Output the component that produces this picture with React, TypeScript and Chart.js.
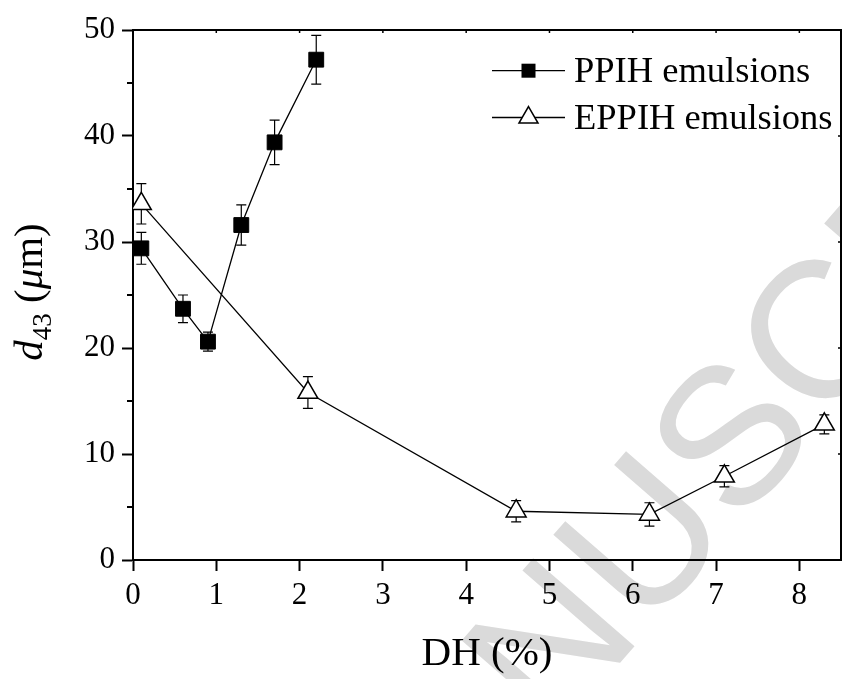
import React, { useEffect, useRef } from 'react';
import { Chart, registerables } from 'chart.js';

Chart.register(...registerables);

// ---- data ----
const ppihDH = [0.1, 0.6, 0.9, 1.3, 1.7, 2.2];
const ppihD43 = [29.4, 23.7, 20.6, 31.6, 39.4, 47.2];
const ppihErr = [1.5, 1.3, 0.9, 1.9, 2.1, 2.3];
const eppihDH = [0.1, 2.1, 4.6, 6.2, 7.1, 8.3];
const eppihD43 = [33.6, 15.8, 4.6, 4.3, 7.9, 12.8];
const eppihErr = [1.9, 1.5, 1.0, 1.1, 1.0, 0.9];
const xTickValues = [0, 1, 2, 3, 4, 5, 6, 7, 8];
const yTickValues = [0, 10, 20, 30, 40, 50];
const yMinorValues = [5, 15, 25, 35, 45];
const seriesLabels = ['PPIH emulsions', 'EPPIH emulsions'];
const xAxisTitle = 'DH (%)';
const watermarkText = 'ACCEPTED MANUSCRIPT';

const SERIF = "'Liberation Serif', 'Times New Roman', serif";
const SANS = "'Liberation Sans', Arial, sans-serif";

const errors = [ppihErr, eppihErr];

const watermarkPlugin = {
  id: 'watermark',
  beforeDraw(chart: any) {
    const ctx = chart.ctx;
    ctx.save();
    const fs = 195;
    ctx.font = `${fs}px ${SANS}`;
    ctx.fillStyle = '#dadada';
    ctx.translate(638, 535);
    ctx.rotate(-49 * Math.PI / 180);
    const pre = ctx.measureText('ACCEPTED MAN').width;
    const u = ctx.measureText('U').width;
    ctx.textBaseline = 'alphabetic';
    ctx.fillText(watermarkText, -pre - u / 2, 0.36 * fs);
    ctx.restore();
  },
};

const errorBarPlugin = {
  id: 'errorBars',
  beforeDatasetsDraw(chart: any) {
    const ctx = chart.ctx;
    const ys = chart.scales.y;
    ctx.save();
    ctx.strokeStyle = '#000';
    ctx.lineWidth = 1.2;
    chart.data.datasets.forEach((ds: any, i: number) => {
      const meta = chart.getDatasetMeta(i);
      meta.data.forEach((pt: any, j: number) => {
        const v = ds.data[j].y;
        const e = errors[i][j];
        const top = ys.getPixelForValue(v + e);
        const bot = ys.getPixelForValue(v - e);
        const x = pt.x;
        ctx.beginPath();
        ctx.moveTo(x, top);
        ctx.lineTo(x, bot);
        ctx.moveTo(x - 5, top);
        ctx.lineTo(x + 5, top);
        ctx.moveTo(x - 5, bot);
        ctx.lineTo(x + 5, bot);
        ctx.stroke();
      });
    });
    ctx.restore();
  },
};

const decorPlugin = {
  id: 'decor',
  afterDraw(chart: any) {
    const ctx = chart.ctx;
    const a = chart.chartArea;
    const xs = chart.scales.x;
    const ys = chart.scales.y;
    ctx.save();
    ctx.strokeStyle = '#000';
    ctx.lineWidth = 2;
    // frame (top & right)
    ctx.beginPath();
    ctx.moveTo(a.left, a.top);
    ctx.lineTo(a.right, a.top);
    ctx.lineTo(a.right, a.bottom);
    ctx.stroke();
    // inward small ticks on top and right
    ctx.lineWidth = 1.5;
    ctx.beginPath();
    xTickValues.forEach((v) => {
      const x = xs.getPixelForValue(v);
      ctx.moveTo(x, a.top);
      ctx.lineTo(x, a.top + 3);
    });
    yTickValues.forEach((v) => {
      const y = ys.getPixelForValue(v);
      ctx.moveTo(a.right, y);
      ctx.lineTo(a.right - 3, y);
    });
    ctx.stroke();
    // minor y ticks (outside, left)
    ctx.lineWidth = 2;
    ctx.beginPath();
    yMinorValues.forEach((v) => {
      const y = ys.getPixelForValue(v);
      ctx.moveTo(a.left, y);
      ctx.lineTo(a.left - 6, y);
    });
    ctx.stroke();

    // x title
    ctx.fillStyle = '#000';
    ctx.font = `41px ${SERIF}`;
    ctx.textAlign = 'center';
    ctx.textBaseline = 'alphabetic';
    ctx.fillText(xAxisTitle, (a.left + a.right) / 2, 665);

    // y title: d43 (μm)
    ctx.save();
    ctx.translate(42, (a.top + a.bottom) / 2 - 3);
    ctx.rotate(-Math.PI / 2);
    ctx.textAlign = 'left';
    const parts = [
      { t: 'd', f: `italic 41px ${SERIF}`, dy: 0 },
      { t: '43', f: `27px ${SERIF}`, dy: 9 },
      { t: ' (', f: `41px ${SERIF}`, dy: 0 },
      { t: 'μ', f: `italic 41px ${SERIF}`, dy: 0 },
      { t: 'm)', f: `41px ${SERIF}`, dy: 0 },
    ];
    let total = 0;
    parts.forEach((p) => {
      ctx.font = p.f;
      total += ctx.measureText(p.t).width;
    });
    let cx = -total / 2;
    parts.forEach((p) => {
      ctx.font = p.f;
      ctx.fillText(p.t, cx, p.dy);
      cx += ctx.measureText(p.t).width;
    });
    ctx.restore();

    // legend
    const rows = [
      { y: 70.7, label: seriesLabels[0], kind: 'square' },
      { y: 117.5, label: seriesLabels[1], kind: 'triangle' },
    ];
    rows.forEach((r) => {
      ctx.lineWidth = 1.3;
      ctx.strokeStyle = '#000';
      ctx.beginPath();
      ctx.moveTo(492, r.y);
      ctx.lineTo(565, r.y);
      ctx.stroke();
      const mx = 528.5;
      if (r.kind === 'square') {
        ctx.fillStyle = '#000';
        ctx.fillRect(mx - 7, r.y - 7, 14, 14);
      } else {
        const rad = 11;
        ctx.beginPath();
        ctx.moveTo(mx, r.y - rad);
        ctx.lineTo(mx + rad * Math.sin(Math.PI * 2 / 3), r.y + rad / 2);
        ctx.lineTo(mx - rad * Math.sin(Math.PI * 2 / 3), r.y + rad / 2);
        ctx.closePath();
        ctx.fillStyle = '#fff';
        ctx.fill();
        ctx.lineWidth = 1.5;
        ctx.stroke();
      }
      ctx.fillStyle = '#000';
      ctx.font = `36.5px ${SERIF}`;
      ctx.textAlign = 'left';
      ctx.textBaseline = 'alphabetic';
      ctx.fillText(r.label, 574, r.y + 11);
    });
    ctx.restore();
  },
};

export default function App() {
  const ref = useRef<HTMLCanvasElement | null>(null);

  useEffect(() => {
    if (!ref.current) return;
    const chart = new Chart(ref.current, {
      type: 'line',
      data: {
        datasets: [
          {
            label: seriesLabels[0],
            data: ppihDH.map((x, i) => ({ x, y: ppihD43[i] })),
            borderColor: '#000',
            borderWidth: 1.3,
            pointStyle: 'rect',
            pointRadius: 10.5,
            pointBackgroundColor: '#000',
            pointBorderColor: '#000',
            pointBorderWidth: 1,
            tension: 0,
            fill: false,
          },
          {
            label: seriesLabels[1],
            data: eppihDH.map((x, i) => ({ x, y: eppihD43[i] })),
            borderColor: '#000',
            borderWidth: 1.3,
            pointStyle: 'triangle',
            pointRadius: 11.5,
            pointBackgroundColor: '#fff',
            pointBorderColor: '#000',
            pointBorderWidth: 1.5,
            tension: 0,
            fill: false,
          },
        ],
      },
      options: {
        responsive: false,
        animation: false,
        devicePixelRatio: 1,
        layout: { autoPadding: false, padding: { top: 30, right: 1, left: 0, bottom: 0 } },
        plugins: {
          legend: { display: false },
          tooltip: { enabled: false },
        },
        scales: {
          x: {
            type: 'linear',
            min: 0,
            max: 8.5,
            afterBuildTicks: (s: any) => {
              s.ticks = xTickValues.map((v) => ({ value: v }));
            },
            afterFit: (s: any) => {
              s.height = 119;
              s.paddingLeft = 0;
              s.paddingRight = 0;
            },
            grid: {
              drawOnChartArea: false,
              drawTicks: true,
              tickLength: 11,
              tickWidth: 2,
              tickColor: '#000',
              color: '#000',
            },
            border: { display: true, color: '#000', width: 2 },
            ticks: {
              color: '#000',
              padding: 6,
              maxRotation: 0,
              font: { family: SERIF, size: 31 },
            },
          },
          y: {
            type: 'linear',
            min: 0,
            max: 50,
            afterBuildTicks: (s: any) => {
              s.ticks = yTickValues.map((v) => ({ value: v }));
            },
            afterFit: (s: any) => {
              s.width = 133;
              s.paddingTop = 0;
              s.paddingBottom = 0;
            },
            grid: {
              drawOnChartArea: false,
              drawTicks: true,
              tickLength: 11,
              tickWidth: 2,
              tickColor: '#000',
              color: '#000',
            },
            border: { display: true, color: '#000', width: 2 },
            ticks: {
              color: '#000',
              padding: 7,
              font: { family: SERIF, size: 31 },
            },
          },
        },
      },
      plugins: [watermarkPlugin, errorBarPlugin, decorPlugin],
    } as any);
    return () => chart.destroy();
  }, []);

  return (
    <div style={{ position: 'absolute', left: 0, top: 0, width: 842, height: 679, background: '#fff' }}>
      <canvas ref={ref} width={842} height={679} style={{ width: 842, height: 679, display: 'block' }} />
    </div>
  );
}
